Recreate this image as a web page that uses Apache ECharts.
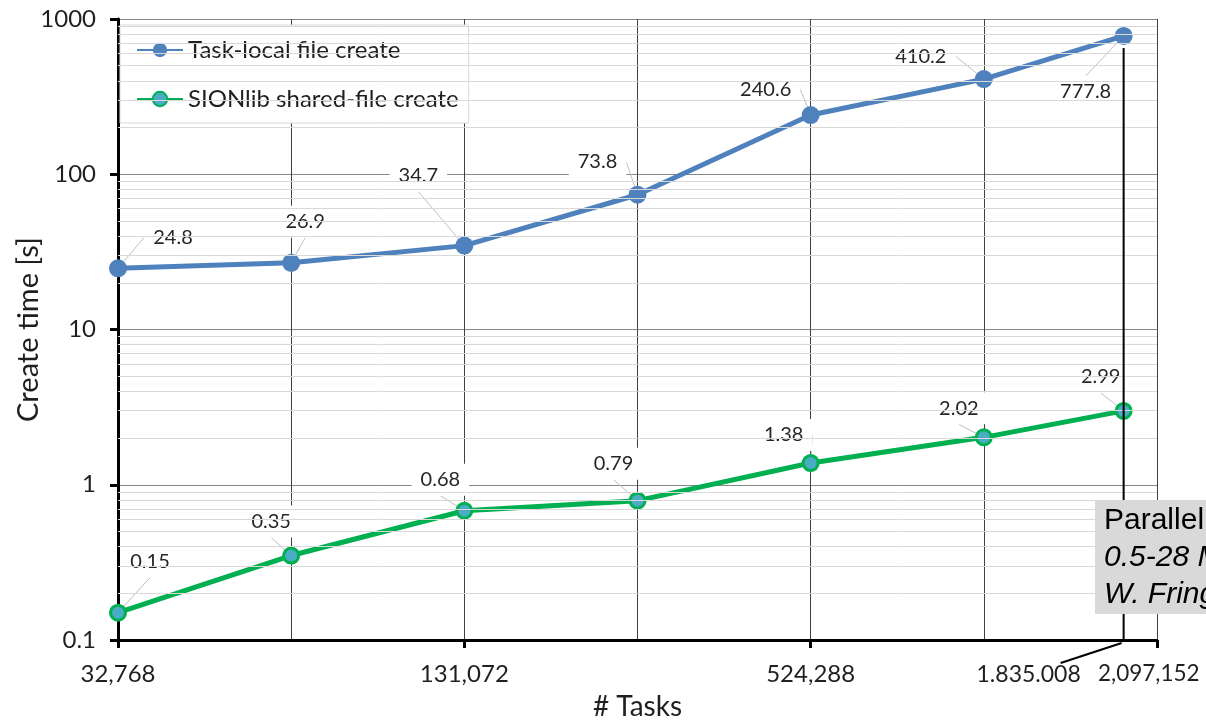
<!DOCTYPE html>
<html>
<head>
<meta charset="utf-8">
<script src="https://cdn.jsdelivr.net/npm/echarts@6/dist/echarts.min.js"></script>
<style>
  html, body { margin: 0; padding: 0; background: #fff; }
  #chart { width: 1206px; height: 721px; }
</style>
</head>
<body>
<div id="chart"></div>
<script>
// data
const tasks = [32768, 65536, 131072, 262144, 524288, 1048576, 1835008]
const taskLocal = [24.8, 26.9, 34.7, 73.8, 240.6, 410.2, 777.8]
const sionlib = [0.15, 0.35, 0.68, 0.79, 1.38, 2.02, 2.99]
const xLabelValues = [32768, 131072, 524288, 2097152]
const yDecades = [0.1, 1, 10, 100, 1000]

// label offsets (px) from each point, as in the original
const blueOffsets = [[55, -31], [14, -41], [-46, -70], [-40, -33], [-45, -26], [-63, -23], [-38, 56]]
const greenOffsets = [[32, -51], [-20, -34], [-24, -31], [-24, -37], [-27, -28], [-25, -29], [-23, -34]]

// minor gridlines 2..9 in each decade
const minorGrid = []
for (let d = 0; d < yDecades.length - 1; d++) {
  for (let k = 2; k <= 9; k++) minorGrid.push(+(yDecades[d] * k).toPrecision(3))
}

const FONT = 'Lato'
const TEXT = '#1f1f1f'
const fmtNum = v => Math.round(v).toString().replace(/\B(?=(\d{3})+(?!\d))/g, ',')
const xMax = xLabelValues[xLabelValues.length - 1]

const chart = echarts.init(document.getElementById('chart'))

const dataLabel = {
  show: true,
  position: 'inside',
  fontFamily: FONT,
  fontSize: 20,
  color: '#262626',
  backgroundColor: '#fff',
  padding: [6, 9],
}
const leader = { show: true, lineStyle: { color: '#bfbfbf', width: 1 } }

chart.setOption({
  animation: false,
  grid: { left: 118, right: 49, top: 19, bottom: 81, outerBoundsMode: 'none' },
  legend: {
    data: ['Task-local file create', 'SIONlib shared-file create'],
    orient: 'vertical',
    left: 120,
    top: 25,
    itemWidth: 46,
    itemHeight: 18,
    itemGap: 25,
    padding: [13, 10, 12, 16],
    backgroundColor: '#fff',
    borderColor: '#d9d9d9',
    borderWidth: 1,
    textStyle: { fontFamily: FONT, fontSize: 24, color: TEXT },
  },
  xAxis: [
    {
      type: 'log',
      logBase: 2,
      min: 32768,
      max: xMax,
      splitNumber: 6,
      name: '# Tasks',
      nameLocation: 'middle',
      nameGap: 53,
      nameMoveOverlap: false,
      nameTextStyle: { fontFamily: FONT, fontSize: 28, color: TEXT },
      axisLine: { lineStyle: { color: '#000', width: 3 } },
      axisTick: { customValues: xLabelValues, length: 8, lineStyle: { color: '#000', width: 3 } },
      axisLabel: {
        customValues: xLabelValues,
        showMaxLabel: true,
        margin: 22,
        fontFamily: FONT,
        fontSize: 24,
        color: TEXT,
        formatter: v => Math.round(v) === xMax ? '{m|' + fmtNum(v) + '}' : fmtNum(v),
        rich: { m: { fontFamily: FONT, fontSize: 22.5, color: TEXT, width: 118, align: 'left' } },
      },
      splitLine: { show: false },
    },
    {
      // vertical gridlines at every power of two
      type: 'log',
      logBase: 2,
      min: 32768,
      max: xMax,
      splitNumber: 6,
      axisLine: { show: false },
      axisTick: { show: false },
      axisLabel: { show: false },
      splitLine: { show: true, lineStyle: { color: '#404040', width: 1 } },
    },
  ],
  yAxis: {
    type: 'log',
    logBase: 10,
    min: 0.1,
    max: 1000,
    name: 'Create time [s]',
    nameLocation: 'middle',
    nameGap: 75,
    nameMoveOverlap: false,
    nameTextStyle: { fontFamily: FONT, fontSize: 29, color: TEXT },
    axisLine: { show: true, lineStyle: { color: '#000', width: 3 } },
    axisTick: { show: true, length: 8, lineStyle: { color: '#000', width: 3 } },
    axisLabel: {
      margin: 22,
      fontFamily: FONT,
      fontSize: 24,
      color: TEXT,
      formatter: v => String(+v.toPrecision(3)),
    },
    splitLine: { lineStyle: { color: '#868686', width: 1 } },
  },
  series: [
    {
      // minor horizontal gridlines
      type: 'line',
      data: [],
      z: 1,
      markLine: {
        silent: true,
        symbol: 'none',
        label: { show: false },
        lineStyle: { color: '#d9d9d9', type: 'solid', width: 1 },
        data: minorGrid.map(v => ({ yAxis: v })),
      },
    },
    {
      name: 'Task-local file create',
      type: 'line',
      z: 3,
      data: tasks.map((t, i) => [t, taskLocal[i]]),
      symbol: 'circle',
      symbolSize: 18,
      lineStyle: { color: '#4f81bd', width: 5 },
      itemStyle: { color: '#4f81bd' },
      label: dataLabel,
      labelLine: leader,
      labelLayout: p => ({ dx: blueOffsets[p.dataIndex][0], dy: blueOffsets[p.dataIndex][1] }),
    },
    {
      name: 'SIONlib shared-file create',
      type: 'line',
      z: 3,
      data: tasks.map((t, i) => [t, sionlib[i]]),
      symbol: 'circle',
      symbolSize: 15,
      lineStyle: { color: '#00b050', width: 5 },
      itemStyle: { color: '#4bacc6', borderColor: '#00b050', borderWidth: 3 },
      label: dataLabel,
      labelLine: leader,
      labelLayout: p => ({ dx: greenOffsets[p.dataIndex][0], dy: greenOffsets[p.dataIndex][1] }),
    },
  ],
})

// annotation for the 1.835.008 point, placed through the chart's scales
const lastX = tasks[tasks.length - 1]
const pTop = chart.convertToPixel({ xAxisIndex: 0, yAxisIndex: 0 }, [lastX, 650])
const pAxis = chart.convertToPixel({ xAxisIndex: 0, yAxisIndex: 0 }, [lastX, 0.1])

chart.setOption({
  graphic: [
    {
      type: 'line',
      z: 10,
      shape: { x1: pTop[0], y1: pTop[1], x2: pAxis[0], y2: pAxis[1] },
      style: { stroke: '#000', lineWidth: 2 },
    },
    {
      type: 'line',
      z: 10,
      shape: { x1: pAxis[0] - 2, y1: pAxis[1] + 3, x2: pAxis[0] - 63, y2: pAxis[1] + 23 },
      style: { stroke: '#000', lineWidth: 2 },
    },
    {
      type: 'text',
      z: 10,
      x: pAxis[0] - 95,
      y: pAxis[1] + 35,
      style: {
        text: '1.835.008',
        fontFamily: FONT,
        fontSize: 23,
        fill: TEXT,
        align: 'center',
        verticalAlign: 'middle',
      },
    },
    {
      type: 'rect',
      z: 20,
      shape: { x: 1095, y: 500, width: 220, height: 114 },
      style: { fill: '#d9d9d9' },
    },
    {
      type: 'text',
      z: 21,
      x: 1104,
      y: 502,
      style: {
        text: '{a|Parallel file system}\n{b|0.5-28 MB/s}\n{b|W. Frings}',
        rich: {
          a: { fontFamily: 'Liberation Sans', fontSize: 30, lineHeight: 37, fill: '#000' },
          b: { fontFamily: 'Liberation Sans', fontSize: 30, lineHeight: 37, fontStyle: 'italic', fill: '#000' },
        },
      },
    },
  ],
})

window.addEventListener('resize', () => chart.resize())
</script>
</body>
</html>
